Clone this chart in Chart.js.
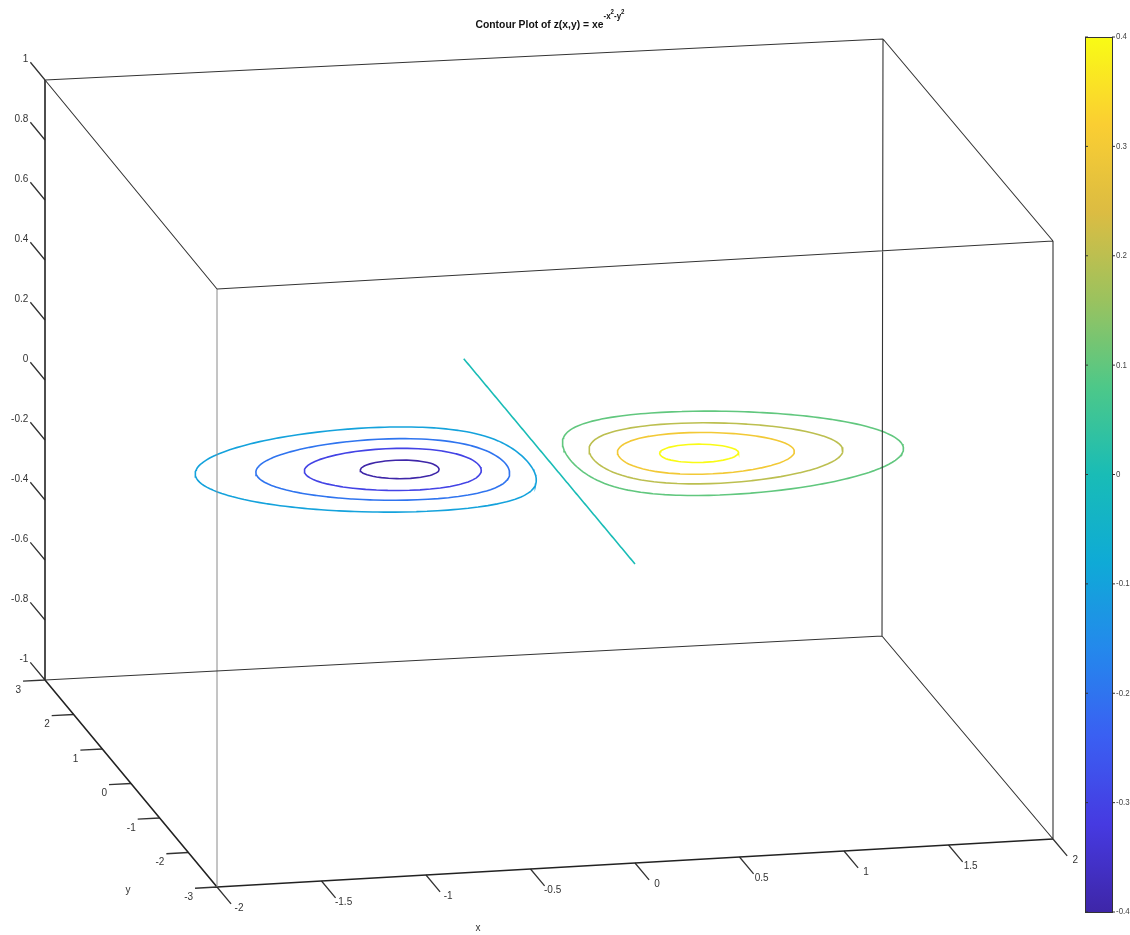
<!DOCTYPE html>
<html>
<head>
<meta charset="utf-8">
<title>Contour Plot</title>
<script src="https://cdn.jsdelivr.net/npm/chart.js@4.4.0/dist/chart.umd.min.js"></script>
<style>
  html, body { margin: 0; padding: 0; background: #fff; }
  #wrap { width: 1130px; height: 935px; }
</style>
</head>
<body>
<div id="wrap"><canvas id="chart" width="1130" height="935"></canvas></div>
<script>
// axis limits, ticks and contour levels
const xLimits = [-2, 2];
const yLimits = [-3, 3];
const zLimits = [-1, 1];
const xTicks = [-2, -1.5, -1, -0.5, 0, 0.5, 1, 1.5, 2];
const yTicks = [3, 2, 1, 0, -1, -2, -3];
const zTicks = [1, 0.8, 0.6, 0.4, 0.2, 0, -0.2, -0.4, -0.6, -0.8, -1];
const contourLevels = [-0.4, -0.3, -0.2, -0.1, 0, 0.1, 0.2, 0.3, 0.4];
const colorbarTicks = [0.4, 0.3, 0.2, 0.1, 0, -0.1, -0.2, -0.3, -0.4];
const colorLimits = [-0.4, 0.4];
const contourPlaneZ = 0;
const gridStep = 0.05;

// z(x,y) = x e^(-x^2 - y^2), the surface named in the title
const surface = (x, y) => x * Math.exp(-x * x - y * y);

// camera: where the eight box corners land on screen (index order x,y,z; 0 = low limit)
const view = {
  '000': [217, 887], '001': [217, 289],
  '010': [45, 680],  '011': [45, 80],
  '100': [1053, 839], '101': [1053, 241],
  '110': [882, 636], '111': [883, 39]
};

// parula-like colour map
const parulaStops = [
  [0.0, 62, 38, 168], [0.1, 70, 58, 225], [0.2, 58, 95, 242], [0.3, 36, 136, 236],
  [0.4, 15, 170, 214], [0.5, 25, 188, 182], [0.6, 77, 200, 137], [0.7, 155, 194, 94],
  [0.8, 220, 188, 66], [0.9, 250, 206, 50], [1.0, 249, 251, 21]
];

function parula(t) {
  t = Math.max(0, Math.min(1, t));
  for (let k = 1; k < parulaStops.length; k++) {
    const a = parulaStops[k - 1], b = parulaStops[k];
    if (t <= b[0]) {
      const s = (t - a[0]) / (b[0] - a[0]);
      const c = [1, 2, 3].map(i => Math.round(a[i] + s * (b[i] - a[i])));
      return `rgb(${c[0]}, ${c[1]}, ${c[2]})`;
    }
  }
  return 'rgb(249, 251, 21)';
}

function levelColor(v) {
  return parula((v - colorLimits[0]) / (colorLimits[1] - colorLimits[0]));
}

function project(x, y, z) {
  const u = (x - xLimits[0]) / (xLimits[1] - xLimits[0]);
  const v = (y - yLimits[0]) / (yLimits[1] - yLimits[0]);
  const w = (z - zLimits[0]) / (zLimits[1] - zLimits[0]);
  let sx = 0, sy = 0;
  for (const a of [0, 1]) for (const b of [0, 1]) for (const c of [0, 1]) {
    const wt = (a ? u : 1 - u) * (b ? v : 1 - v) * (c ? w : 1 - w);
    const p = view['' + a + b + c];
    sx += wt * p[0];
    sy += wt * p[1];
  }
  return { x: sx, y: sy };
}

function unitDir(p, q) {
  const dx = q.x - p.x, dy = q.y - p.y;
  const len = Math.hypot(dx, dy);
  return { x: dx / len, y: dy / len };
}

// sample grid
const xGrid = [];
const yGrid = [];
for (let i = 0; i <= Math.round((xLimits[1] - xLimits[0]) / gridStep); i++) xGrid.push(+(xLimits[0] + i * gridStep).toFixed(4));
for (let j = 0; j <= Math.round((yLimits[1] - yLimits[0]) / gridStep); j++) yGrid.push(+(yLimits[0] + j * gridStep).toFixed(4));
const zGrid = yGrid.map(y => xGrid.map(x => surface(x, y)));

// marching squares, chained into polylines
function traceContours(level) {
  const nx = xGrid.length, ny = yGrid.length;
  const f = (i, j) => zGrid[j][i];
  const above = (i, j) => f(i, j) >= level;
  const pts = new Map();
  const links = new Map();

  function crossing(key, i0, j0, i1, j1) {
    if (!pts.has(key)) {
      const f0 = f(i0, j0), f1 = f(i1, j1);
      const t = f1 === f0 ? 0.5 : (level - f0) / (f1 - f0);
      pts.set(key, [xGrid[i0] + t * (xGrid[i1] - xGrid[i0]), yGrid[j0] + t * (yGrid[j1] - yGrid[j0])]);
    }
    return key;
  }
  function link(a, b) {
    if (!links.has(a)) links.set(a, []);
    if (!links.has(b)) links.set(b, []);
    links.get(a).push(b);
    links.get(b).push(a);
  }

  for (let j = 0; j < ny - 1; j++) {
    for (let i = 0; i < nx - 1; i++) {
      const s = [above(i, j), above(i + 1, j), above(i + 1, j + 1), above(i, j + 1)];
      const edges = [];
      if (s[0] !== s[1]) edges.push(crossing(`h${i}_${j}`, i, j, i + 1, j));
      if (s[1] !== s[2]) edges.push(crossing(`v${i + 1}_${j}`, i + 1, j, i + 1, j + 1));
      if (s[2] !== s[3]) edges.push(crossing(`h${i}_${j + 1}`, i, j + 1, i + 1, j + 1));
      if (s[3] !== s[0]) edges.push(crossing(`v${i}_${j}`, i, j, i, j + 1));
      if (edges.length === 2) link(edges[0], edges[1]);
      else if (edges.length === 4) { link(edges[0], edges[1]); link(edges[2], edges[3]); }
    }
  }

  const used = new Set();
  const lines = [];
  const starts = [...links.keys()].sort((a, b) => links.get(a).length - links.get(b).length);
  for (const start of starts) {
    if (used.has(start)) continue;
    const line = [start];
    used.add(start);
    let cur = start;
    while (true) {
      const next = links.get(cur).find(k => !used.has(k));
      if (!next) break;
      used.add(next);
      line.push(next);
      cur = next;
    }
    if (line.length > 2 && links.get(cur).includes(start)) line.push(start);
    lines.push(line.map(k => pts.get(k)));
  }
  return lines;
}

// turn 3D polylines into chart data with gaps between pieces
function toData(polylines) {
  const data = [];
  polylines.forEach(pl => {
    pl.forEach(p => data.push(project(p[0], p[1], p[2])));
    data.push({ x: null, y: null });
  });
  return data;
}

const [x0, x1] = xLimits, [y0, y1] = yLimits, [z0, z1] = zLimits;

// box edges
const axisEdges = [
  [[x0, y1, z0], [x0, y1, z1]],   // z axis
  [[x0, y0, z0], [x0, y1, z0]],   // y axis
  [[x0, y0, z0], [x1, y0, z0]]    // x axis
];
const boxEdges = [
  [[x0, y1, z1], [x1, y1, z1]],
  [[x0, y1, z0], [x1, y1, z0]],
  [[x1, y1, z0], [x1, y1, z1]],
  [[x0, y0, z1], [x1, y0, z1]],
  [[x1, y0, z0], [x1, y0, z1]],
  [[x0, y0, z1], [x0, y1, z1]],
  [[x1, y0, z1], [x1, y1, z1]],
  [[x1, y0, z0], [x1, y1, z0]]
];
const lightEdges = [
  [[x0, y0, z0], [x0, y0, z1]]
];

// tick marks (screen-space length along the receding directions)
const tickLen = { x: 22, y: 22, z: 23 };
function tickSegments() {
  const segs = [];
  const labels = [];
  zTicks.forEach(z => {
    const p = project(x0, y1, z);
    const d = unitDir(p, project(x0, y1 + 1, z));
    const e = { x: p.x + d.x * tickLen.z, y: p.y + d.y * tickLen.z };
    segs.push(p, e, { x: null, y: null });
    labels.push({ text: String(z), x: e.x - 2, y: e.y - 3, align: 'right' });
  });
  yTicks.forEach(y => {
    const p = project(x0, y, z0);
    const d = unitDir(p, project(x0 - 1, y, z0));
    const e = { x: p.x + d.x * tickLen.y, y: p.y + d.y * tickLen.y };
    segs.push(p, e, { x: null, y: null });
    labels.push({ text: String(y), x: e.x - 2, y: e.y + 9, align: 'right' });
  });
  xTicks.forEach(x => {
    const p = project(x, y0, z0);
    const d = unitDir(p, project(x, y0 - 1, z0));
    const e = { x: p.x + d.x * tickLen.x, y: p.y + d.y * tickLen.x };
    segs.push(p, e, { x: null, y: null });
    labels.push({ text: String(x), x: e.x + 8, y: e.y + 4, align: 'center' });
  });
  return { segs, labels };
}
const ticks = tickSegments();

const lineDs = (data, color, width) => ({
  data, showLine: true, borderColor: color, borderWidth: width,
  pointRadius: 0, fill: false, spanGaps: false
});

const datasets = [
  lineDs(toData(boxEdges), '#333', 1.1),
  lineDs(toData(lightEdges), '#8a8a8a', 1),
  lineDs(toData(axisEdges), '#222', 1.6),
  lineDs(ticks.segs, '#333', 1.3)
];
contourLevels.forEach(level => {
  const lines = traceContours(level).map(pl => pl.map(p => [p[0], p[1], contourPlaneZ]));
  datasets.push(lineDs(toData(lines), levelColor(level), 1.6));
});

// text layout
const titleBox = { centerX: 550, baseline: 28, mainWidth: 128 };
const axisLabels = [
  { text: 'x', x: 478, y: 928 },
  { text: 'y', x: 128, y: 890 }
];
const colorbarBox = { left: 1085, right: 1112, top: 37, bottom: 912 };

const decorPlugin = {
  id: 'decor',
  afterDraw(chart) {
    const ctx = chart.ctx;
    const sx = v => chart.scales.x.getPixelForValue(v);
    const sy = v => chart.scales.y.getPixelForValue(v);
    ctx.save();

    // tick labels
    ctx.fillStyle = '#333';
    ctx.font = '10px "Liberation Sans", Arial, sans-serif';
    ctx.textBaseline = 'middle';
    ticks.labels.forEach(l => {
      ctx.textAlign = l.align;
      ctx.fillText(l.text, sx(l.x), sy(l.y));
    });
    ctx.textAlign = 'center';
    axisLabels.forEach(l => ctx.fillText(l.text, sx(l.x), sy(l.y)));

    // title with superscripts, squeezed to the narrow face of the original
    ctx.font = 'bold 11px "Liberation Sans", Arial, sans-serif';
    const mainText = 'Contour Plot of z(x,y) = xe';
    const squeeze = titleBox.mainWidth / ctx.measureText(mainText).width;
    const parts = [
      { t: mainText, size: 11, rise: 0 },
      { t: '-x', size: 8.5, rise: 9 },
      { t: '2', size: 6.5, rise: 14 },
      { t: '-y', size: 8.5, rise: 9 },
      { t: '2', size: 6.5, rise: 14 }
    ];
    let total = 0;
    parts.forEach(p => {
      ctx.font = `bold ${p.size}px "Liberation Sans", Arial, sans-serif`;
      p.w = ctx.measureText(p.t).width * squeeze;
      total += p.w;
    });
    let cx = titleBox.centerX - total / 2;
    ctx.fillStyle = '#111';
    ctx.textAlign = 'left';
    ctx.textBaseline = 'alphabetic';
    parts.forEach(p => {
      ctx.font = `bold ${p.size}px "Liberation Sans", Arial, sans-serif`;
      ctx.save();
      ctx.translate(cx, titleBox.baseline - p.rise);
      ctx.scale(squeeze, 1);
      ctx.fillText(p.t, 0, 0);
      ctx.restore();
      cx += p.w;
    });

    // colorbar
    const cb = colorbarBox;
    const grad = ctx.createLinearGradient(0, cb.bottom, 0, cb.top);
    for (let k = 0; k <= 40; k++) grad.addColorStop(k / 40, parula(k / 40));
    ctx.fillStyle = grad;
    ctx.fillRect(cb.left, cb.top, cb.right - cb.left, cb.bottom - cb.top);
    ctx.strokeStyle = '#333';
    ctx.lineWidth = 1;
    ctx.strokeRect(cb.left + 0.5, cb.top + 0.5, cb.right - cb.left, cb.bottom - cb.top);
    ctx.font = '9px "Liberation Sans", Arial, sans-serif';
    ctx.fillStyle = '#444';
    ctx.textBaseline = 'middle';
    ctx.textAlign = 'left';
    colorbarTicks.forEach(v => {
      const y = cb.bottom - (v - colorLimits[0]) / (colorLimits[1] - colorLimits[0]) * (cb.bottom - cb.top);
      ctx.beginPath();
      ctx.moveTo(cb.right, y);
      ctx.lineTo(cb.right + 3, y);
      ctx.moveTo(cb.left, y);
      ctx.lineTo(cb.left + 3, y);
      ctx.stroke();
      ctx.save();
      ctx.translate(cb.right + 4, y);
      ctx.scale(0.88, 1);
      ctx.fillText(String(v), 0, 0);
      ctx.restore();
    });
    ctx.restore();
  }
};

new Chart(document.getElementById('chart').getContext('2d'), {
  type: 'scatter',
  data: { datasets },
  options: {
    responsive: false,
    animation: false,
    layout: { padding: 0 },
    scales: {
      x: { type: 'linear', min: 0, max: 1130, display: false },
      y: { type: 'linear', min: 0, max: 935, reverse: true, display: false }
    },
    plugins: {
      legend: { display: false },
      tooltip: { enabled: false },
      title: { display: false }
    },
    elements: { point: { radius: 0 }, line: { tension: 0 } }
  },
  plugins: [decorPlugin]
});
</script>
</body>
</html>
